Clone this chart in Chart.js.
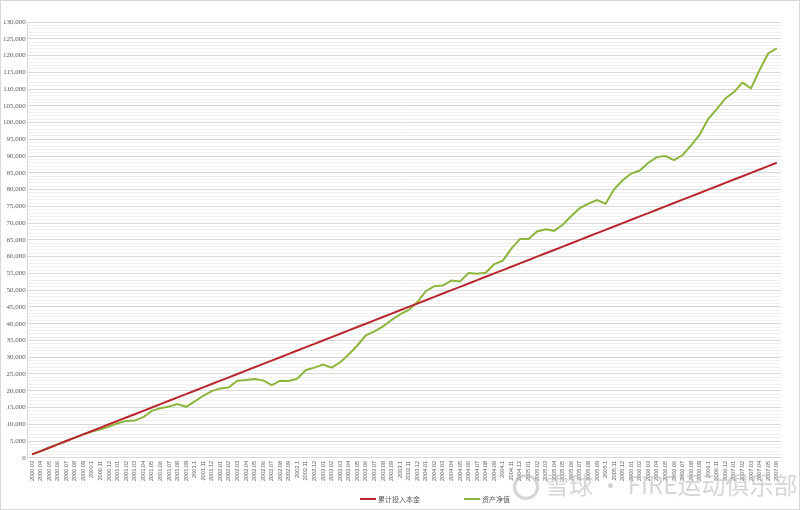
<!DOCTYPE html>
<html>
<head>
<meta charset="utf-8">
<script src="https://cdn.jsdelivr.net/npm/chart.js@4"></script>
<style>
html,body{margin:0;padding:0;background:#fff;}
#wrap{position:relative;width:800px;height:510px;box-sizing:border-box;border:1px solid #d9d9d9;}
canvas{display:block;}
#legend{position:absolute;top:493px;left:359px;font-family:"Noto Sans CJK SC",serif;font-size:7px;color:#595959;white-space:nowrap;}
#legend span.item{display:inline-block;margin-right:44px;}
#legend span.sw{display:inline-block;width:16px;height:2px;vertical-align:middle;margin-right:2px;position:relative;top:-1px;}
#wm{position:absolute;left:512px;top:468px;font-family:"Noto Sans CJK SC",sans-serif;font-size:24px;line-height:30px;color:rgba(185,185,185,0.6);white-space:nowrap;pointer-events:none;}
#wm .logo{display:inline-block;width:26px;height:26px;border:3px solid rgba(185,185,185,0.6);border-radius:50%;vertical-align:middle;margin-right:6px;box-sizing:border-box;}
</style>
</head>
<body>
<div id="wrap"><canvas id="c" width="798" height="508"></canvas>
<div id="legend"></div>
<div id="wm"><span class="logo"></span>雪球 · FIRE运动俱乐部</div></div>
<script>
const months = [
"2000.03","2000.04","2000.05","2000.06","2000.07","2000.08","2000.09","2000.1","2000.11","2000.12",
"2001.01","2001.02","2001.03","2001.04","2001.05","2001.06","2001.07","2001.08","2001.09","2001.1","2001.11","2001.12",
"2002.01","2002.02","2002.03","2002.04","2002.05","2002.06","2002.07","2002.08","2002.09","2002.1","2002.11","2002.12",
"2003.01","2003.02","2003.03","2003.04","2003.05","2003.06","2003.07","2003.08","2003.09","2003.1","2003.11","2003.12",
"2004.01","2004.02","2004.03","2004.04","2004.05","2004.06","2004.07","2004.08","2004.09","2004.1","2004.11","2004.12",
"2005.01","2005.02","2005.03","2005.04","2005.05","2005.06","2005.07","2005.08","2005.09","2005.1","2005.11","2005.12",
"2006.01","2006.02","2006.03","2006.04","2006.05","2006.06","2006.07","2006.08","2006.09","2006.1","2006.11","2006.12",
"2007.01","2007.02","2007.03","2007.04","2007.05","2007.06"
];
const principal = [
1000,2000,3000,4000,5000,6000,7000,8000,9000,10000,
11000,12000,13000,14000,15000,16000,17000,18000,19000,20000,21000,22000,
23000,24000,25000,26000,27000,28000,29000,30000,31000,32000,33000,34000,
35000,36000,37000,38000,39000,40000,41000,42000,43000,44000,45000,46000,
47000,48000,49000,50000,51000,52000,53000,54000,55000,56000,57000,58000,
59000,60000,61000,62000,63000,64000,65000,66000,67000,68000,69000,70000,
71000,72000,73000,74000,75000,76000,77000,78000,79000,80000,81000,82000,
83000,84000,85000,86000,87000,88000
];
const netAsset = [
1000,2000,3000,4000,5000,6000,7000,7800,8500,9300,
10300,11000,11100,12100,14000,14800,15300,16000,15200,16800,18500,19900,
20700,21000,23000,23200,23500,23100,21700,23000,22900,23600,26200,26900,
27800,26900,28500,30800,33500,36500,37700,39200,41100,42800,44100,46400,
49700,51200,51400,52900,52600,55100,54900,55200,57800,58800,62400,65300,
65300,67500,68200,67700,69500,72100,74500,75800,76900,75800,80100,82800,
84800,85700,88000,89700,90000,88800,90300,93200,96400,101100,104000,107200,
109100,111900,110200,115700,120600,122100
];
const seriesNames = ["累计投入本金","资产净值"];
const seriesColors = ['#b8282d','#8db53c'];

const chart = new Chart(document.getElementById('c'), {
  type: 'line',
  data: {
    labels: months,
    datasets: [
      {label: seriesNames[0], data: principal, borderColor: seriesColors[0], backgroundColor: seriesColors[0], borderWidth: 2, pointRadius: 0, tension: 0},
      {label: seriesNames[1], data: netAsset, borderColor: seriesColors[1], backgroundColor: seriesColors[1], borderWidth: 2, pointRadius: 0, tension: 0}
    ]
  },
  options: {
    responsive: false,
    animation: false,
    layout: {padding: {left: 0, right: 18, top: 21, bottom: 25}},
    plugins: {
      legend: {display: false},
      tooltip: {enabled: false}
    },
    scales: {
      x: {
        offset: true,
        grid: {display: false, drawTicks: false},
        border: {color: '#d9d9d9'},
        ticks: {autoSkip: false, minRotation: 90, maxRotation: 90, color: '#595959', font: {family: '"Liberation Sans", sans-serif', size: 5.6}, padding: 3}
      },
      y: {
        min: 0, max: 130000,
        border: {color: '#d9d9d9'},
        grid: {
          drawTicks: false,
          color: (ctx) => (ctx.tick && ctx.tick.value % 5000 === 0) ? '#d9d9d9' : '#f0f0f0',
          lineWidth: 1
        },
        ticks: {
          stepSize: 1000, autoSkip: false, padding: 2, color: '#595959',
          font: {family: '"Liberation Serif", serif', size: 7},
          callback: (v) => v % 5000 === 0 ? v.toLocaleString('en-US') : ''
        }
      }
    }
  }
});
const lg = document.getElementById('legend');
chart.data.datasets.forEach((ds, i) => {
  const it = document.createElement('span');
  it.className = 'item';
  const sw = document.createElement('span');
  sw.className = 'sw';
  sw.style.background = seriesColors[i];
  it.appendChild(sw);
  it.appendChild(document.createTextNode(ds.label));
  lg.appendChild(it);
});
</script>
</body>
</html>
